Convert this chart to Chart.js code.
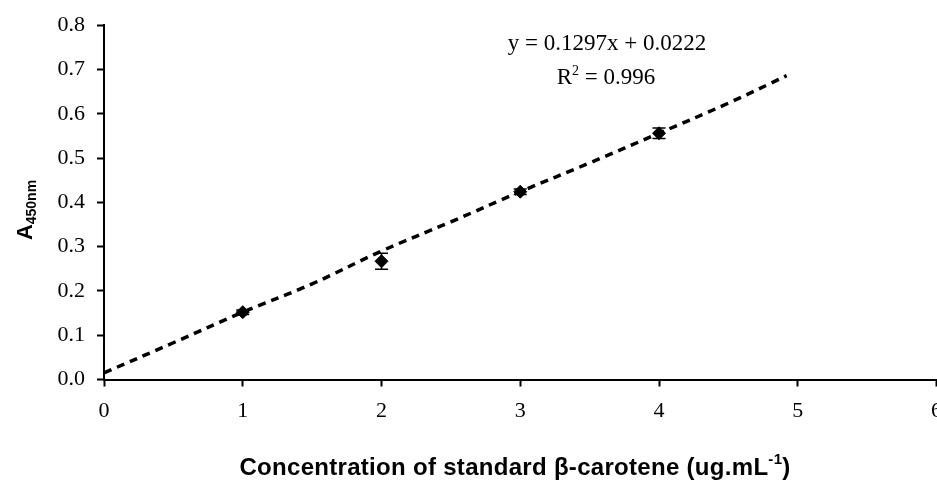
<!DOCTYPE html>
<html>
<head>
<meta charset="utf-8">
<script src="https://cdn.jsdelivr.net/npm/chart.js@4"></script>
<style>
  html, body { margin: 0; padding: 0; background: #fff; overflow: hidden; }
  #wrap { position: relative; width: 944px; height: 486px; }
</style>
</head>
<body>
<div id="wrap"><canvas id="c"></canvas></div>
<script>
// Measured standards
const concentrations = [1, 2, 3, 4];
const absorbance = [0.152, 0.267, 0.424, 0.556];
const absorbanceError = [0.005, 0.018, 0.006, 0.012];

// Dashed trend line
const trendX = [0, 0.5, 1, 1.5, 2, 2.5, 3, 3.5, 4, 4.5, 4.92];
const trendY = [0.015, 0.083, 0.152, 0.216, 0.29, 0.356, 0.424, 0.489, 0.556, 0.624, 0.686];

const xTicks = [0, 1, 2, 3, 4, 5, 6];
const yTicks = [0.0, 0.1, 0.2, 0.3, 0.4, 0.5, 0.6, 0.7, 0.8];

const equationText = "y = 0.1297x + 0.0222";
const r2Text = "R";
const r2Value = " = 0.996";
const yTitleMain = "A";
const yTitleSub = "450nm";
const xTitleMain = "Concentration of standard \u03b2-carotene (ug.mL";
const xTitleSup = "-1";
const xTitleEnd = ")";

const serif = "'Liberation Serif', 'Times New Roman', serif";
const sans = "'Liberation Sans', Arial, sans-serif";

const errorBarPlugin = {
  id: 'errorBars',
  afterDatasetsDraw(chart) {
    const ctx = chart.ctx;
    const xs = chart.scales.x, ys = chart.scales.y;
    ctx.save();
    ctx.strokeStyle = '#000';
    ctx.lineWidth = 1.5;
    concentrations.forEach((c, i) => {
      const px = xs.getPixelForValue(c);
      const top = ys.getPixelForValue(absorbance[i] + absorbanceError[i]);
      const bot = ys.getPixelForValue(absorbance[i] - absorbanceError[i]);
      ctx.beginPath();
      ctx.moveTo(px, top); ctx.lineTo(px, bot);
      ctx.moveTo(px - 6.5, top); ctx.lineTo(px + 6.5, top);
      ctx.moveTo(px - 6.5, bot); ctx.lineTo(px + 6.5, bot);
      ctx.stroke();
    });
    ctx.restore();
  }
};

const textPlugin = {
  id: 'texts',
  afterDraw(chart) {
    const ctx = chart.ctx;
    ctx.save();
    ctx.fillStyle = '#000';
    ctx.textBaseline = 'alphabetic';
    // Equation
    ctx.font = '23px ' + serif;
    ctx.textAlign = 'center';
    ctx.fillText(equationText, 607, 50);
    // R^2 line
    ctx.textAlign = 'left';
    ctx.font = '23px ' + serif;
    const wR = ctx.measureText(r2Text).width;
    const wV = ctx.measureText(r2Value).width;
    ctx.font = '14px ' + serif;
    const w2 = ctx.measureText('2').width;
    let x0 = 606 - (wR + w2 + wV) / 2;
    ctx.font = '23px ' + serif;
    ctx.fillText(r2Text, x0, 84);
    ctx.font = '14px ' + serif;
    ctx.fillText('2', x0 + wR, 75);
    ctx.font = '23px ' + serif;
    ctx.fillText(r2Value, x0 + wR + w2, 84);

    // Y title rotated
    ctx.save();
    ctx.translate(32, 210);
    ctx.rotate(-Math.PI / 2);
    ctx.font = 'bold 22px ' + sans;
    const wA = ctx.measureText(yTitleMain).width;
    ctx.font = 'bold 14px ' + sans;
    const wS = ctx.measureText(yTitleSub).width;
    const sx = -(wA + wS) / 2;
    ctx.font = 'bold 22px ' + sans;
    ctx.fillText(yTitleMain, sx, 0);
    ctx.font = 'bold 14px ' + sans;
    ctx.fillText(yTitleSub, sx + wA, 4);
    ctx.restore();

    // X title
    ctx.letterSpacing = '0.3px';
    ctx.font = 'bold 24px ' + sans;
    const wM = ctx.measureText(xTitleMain).width;
    const wE = ctx.measureText(xTitleEnd).width;
    ctx.font = 'bold 15px ' + sans;
    const wSup = ctx.measureText(xTitleSup).width;
    const total = wM + wSup + wE;
    const xs0 = 515 - total / 2;
    ctx.font = 'bold 24px ' + sans;
    ctx.fillText(xTitleMain, xs0, 475);
    ctx.font = 'bold 15px ' + sans;
    ctx.fillText(xTitleSup, xs0 + wM, 464);
    ctx.font = 'bold 24px ' + sans;
    ctx.fillText(xTitleEnd, xs0 + wM + wSup, 475);
    ctx.restore();
  }
};

new Chart(document.getElementById('c'), {
  type: 'scatter',
  data: {
    datasets: [
      {
        label: 'Standards',
        data: concentrations.map((c, i) => ({ x: c, y: absorbance[i] })),
        pointStyle: 'rectRot',
        pointRadius: 6.5,
        pointHoverRadius: 6.5,
        backgroundColor: '#000',
        borderColor: '#000',
        borderWidth: 1,
        showLine: false,
        order: 0
      },
      {
        label: 'Trend',
        data: trendX.map((x, i) => ({ x: x, y: trendY[i] })),
        showLine: true,
        pointRadius: 0,
        borderColor: '#000',
        borderWidth: 3.5,
        borderDash: [8, 6],
        borderCapStyle: 'butt',
        tension: 0.4,
        fill: false,
        order: 1
      }
    ]
  },
  options: {
    responsive: true,
    maintainAspectRatio: false,
    animation: false,
    events: [],
    layout: { padding: { top: 23.5, right: 1, bottom: 0, left: 0 } },
    plugins: {
      legend: { display: false },
      tooltip: { enabled: false }
    },
    scales: {
      x: {
        type: 'linear',
        min: 0, max: 6,
        afterBuildTicks(scale) { scale.ticks = xTicks.map(v => ({ value: v })); },
        afterFit(scale) { scale.height = 106.5; scale.paddingRight = 0; scale.paddingLeft = 0; },
        ticks: {
          color: '#000',
          font: { family: serif, size: 22 },
          padding: 12,
          maxRotation: 0,
          autoSkip: false,
          callback: v => String(v)
        },
        grid: { drawOnChartArea: false, tickLength: 7, tickColor: '#000', tickWidth: 2 },
        border: { color: '#000', width: 2 }
      },
      y: {
        type: 'linear',
        min: 0, max: 0.8,
        afterBuildTicks(scale) { scale.ticks = yTicks.map(v => ({ value: v })); },
        afterFit(scale) { scale.width = 104; },
        ticks: {
          color: '#000',
          font: { family: serif, size: 22 },
          padding: 12,
          autoSkip: false,
          callback: v => Number(v).toFixed(1)
        },
        grid: { drawOnChartArea: false, tickLength: 7, tickColor: '#000', tickWidth: 2 },
        border: { color: '#000', width: 2 }
      }
    }
  },
  plugins: [errorBarPlugin, textPlugin]
});
</script>
</body>
</html>
